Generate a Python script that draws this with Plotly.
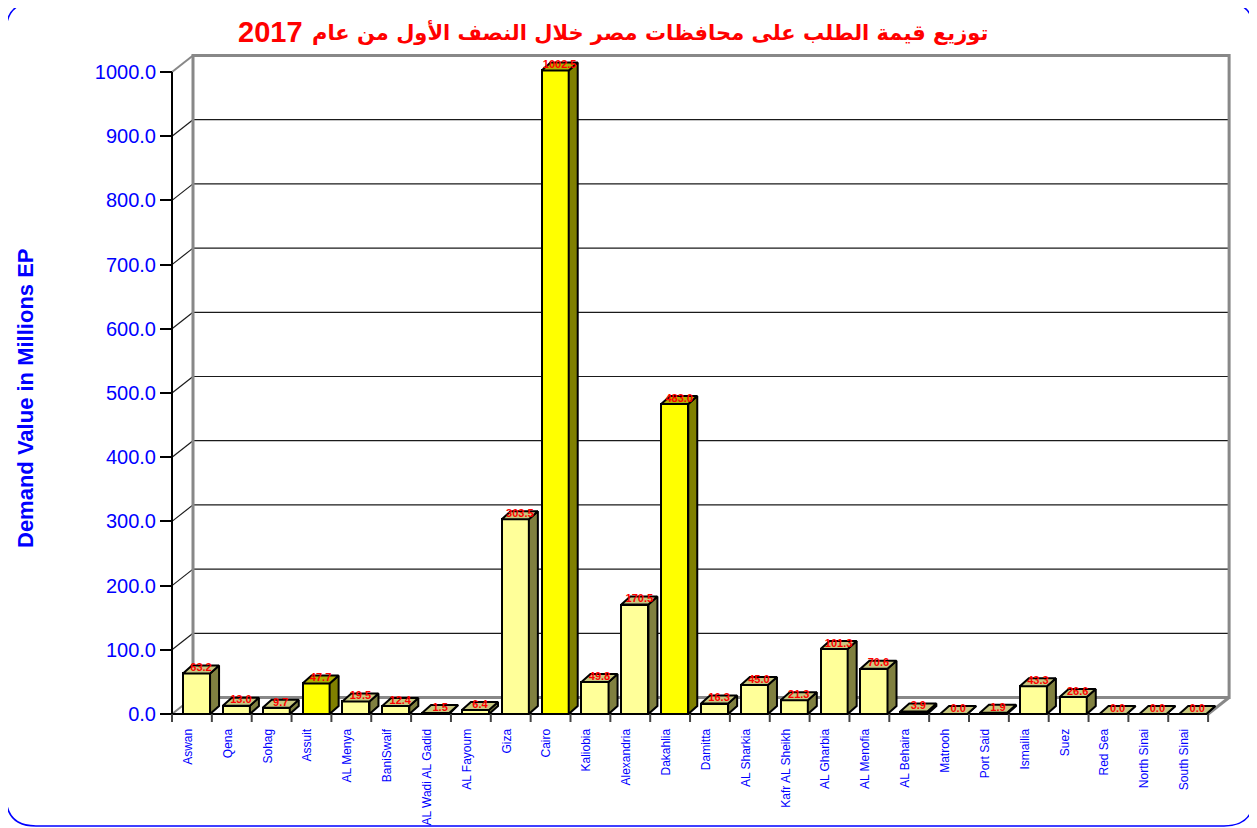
import plotly.graph_objects as go

# ---------------- data ----------------
governorates = ["Aswan", "Qena", "Sohag", "Assuit", "AL Menya", "BaniSwaif", "AL Wadi AL Gadid",
                "AL Fayoum", "Giza", "Cairo", "Kaliobia", "Alexandria", "Dakahlia", "Damitta",
                "AL Sharkia", "Kafr AL Sheikh", "AL Gharbia", "AL Menofia", "AL Behaira", "Matrooh",
                "Port Said", "Ismailia", "Suez", "Red Sea", "North Sinai", "South Sinai"]
demand_values = [63.2, 13.0, 9.7, 47.7, 19.5, 12.4, 1.5, 6.4, 303.5, 1002.5, 49.8, 170.5, 483.0, 16.3,
                 45.0, 21.3, 101.3, 70.6, 3.9, 0.0, 1.9, 43.3, 26.6, 0.0, 0.0, 0.0]
highlighted = ["Assuit", "Cairo", "Dakahlia"]
y_ticks = [0, 100, 200, 300, 400, 500, 600, 700, 800, 900, 1000]
title_arabic = "توزيع قيمة الطلب على محافظات مصر خلال النصف الأول من عام"
title_year = "2017"
y_title = "Demand Value in Millions EP"

# ---------------- layout geometry (reference pixels) ----------------
OFF = 8                       # page body margin
W, H = 1257 - OFF, 828 - OFF  # figure size
PX_X = 39.85                  # pixels per category
X0 = 172 - OFF                # pixel of x = -0.5
PX_Y = 0.642                  # pixels per value unit
Y0 = 714 - OFF                # pixel of y = 0
DOM_L, DOM_R, DOM_T, DOM_B = 150 - OFF, 1245 - OFF, 40 - OFF, 730 - OFF

xr = [-0.5 - (X0 - DOM_L) / PX_X, -0.5 + (DOM_R - X0) / PX_X]
yr = [-(DOM_B - Y0) / PX_Y, (Y0 - DOM_T) / PX_Y]

n = len(governorates)
WX = 21 / PX_X        # wall depth (x)
WY = 16.5 / PX_Y      # wall depth (y)
BW = 0.68             # bar front width
BS = 0.115            # bar front centre shift
DX = 9 / PX_X         # bar depth x
DY = 8 / PX_Y         # bar depth y

LIGHT_FRONT, LIGHT_SIDE, LIGHT_TOP = "#FFFF99", "#808040", "#C8C880"
BRIGHT_FRONT, BRIGHT_SIDE, BRIGHT_TOP = "#FFFF00", "#808000", "#B0B000"

def px(xp): return (xp - OFF) / W
def py(yp): return 1 - (yp - OFF) / H

fig = go.Figure()

# front faces
front_colors = [BRIGHT_FRONT if g in highlighted else LIGHT_FRONT for g in governorates]
fig.add_trace(go.Bar(
    x=[i + BS for i in range(n)], y=demand_values, width=BW,
    marker=dict(color=front_colors, line=dict(color="black", width=2)),
    hoverinfo="skip", showlegend=False))

# side and top faces
def faces(bright):
    sx, sy, tx, ty = [], [], [], []
    for i, (g, v) in enumerate(zip(governorates, demand_values)):
        if (g in highlighted) != bright:
            continue
        x0 = i + BS - BW / 2
        x1 = i + BS + BW / 2
        sx += [x1, x1 + DX, x1 + DX, x1, x1, None]
        sy += [0, DY, v + DY, v, 0, None]
        tx += [x0, x0 + DX, x1 + DX, x1, x0, None]
        ty += [v, v + DY, v + DY, v, v, None]
    return sx, sy, tx, ty

for bright, side_c, top_c in [(False, LIGHT_SIDE, LIGHT_TOP), (True, BRIGHT_SIDE, BRIGHT_TOP)]:
    sx, sy, tx, ty = faces(bright)
    fig.add_trace(go.Scatter(x=sx, y=sy, mode="lines", fill="toself", fillcolor=side_c,
                             line=dict(color="black", width=2), hoverinfo="skip", showlegend=False))
    fig.add_trace(go.Scatter(x=tx, y=ty, mode="lines", fill="toself", fillcolor=top_c,
                             line=dict(color="black", width=2), hoverinfo="skip", showlegend=False))

# value labels
fig.add_trace(go.Scatter(
    x=[i + BS + DX / 2 for i in range(n)], y=[v + DY / 2 + 1 / PX_Y for v in demand_values],
    mode="text", text=[f"{v:.1f}" for v in demand_values],
    textfont=dict(family="Liberation Sans, Arial", size=11, color="#FF0000", weight="bold"),
    textposition="middle center", hoverinfo="skip", showlegend=False, cliponaxis=False))

shapes = []
GRID = "#1a1a1a"
WALL = "#888888"
xl, xrgt = -0.5, n - 0.5
# back-wall gridlines and left-wall diagonals
for v in y_ticks[1:]:
    shapes.append(dict(type="line", xref="x", yref="y", x0=xl + WX, y0=v + WY, x1=xrgt + WX, y1=v + WY,
                       line=dict(color=GRID, width=1.2), layer="below"))
    shapes.append(dict(type="line", xref="x", yref="y", x0=xl, y0=v, x1=xl + WX, y1=v + WY,
                       line=dict(color=WALL if v == y_ticks[-1] else GRID, width=2 if v == y_ticks[-1] else 1.2),
                       layer="below"))
# back wall frame
shapes.append(dict(type="rect", xref="x", yref="y", x0=xl + WX, y0=WY, x1=xrgt + WX, y1=y_ticks[-1] + WY,
                   line=dict(color=WALL, width=3), layer="below"))
# floor diagonals
shapes.append(dict(type="line", xref="x", yref="y", x0=xl, y0=0, x1=xl + WX, y1=WY,
                   line=dict(color=WALL, width=2), layer="below"))
shapes.append(dict(type="line", xref="x", yref="y", x0=xrgt, y0=0, x1=xrgt + WX, y1=WY,
                   line=dict(color=WALL, width=3), layer="below"))
# front axes
shapes.append(dict(type="line", xref="x", yref="y", x0=xl, y0=0, x1=xrgt, y1=0,
                   line=dict(color="black", width=2)))
shapes.append(dict(type="line", xref="x", yref="y", x0=xl, y0=0, x1=xl, y1=y_ticks[-1],
                   line=dict(color="black", width=2)))
# category boundary ticks
for k in range(n + 1):
    b = k - 0.5
    shapes.append(dict(type="line", xref="x", yref="y", x0=b, y0=0, x1=b, y1=-8 / PX_Y,
                       line=dict(color="#444444", width=2)))

# rounded blue border (paper coords, reference pixels)
L, T, R, B, RAD = 6, 2, 1254, 826, 30
path = (f"M {px(L)},{py(T + RAD)} Q {px(L)},{py(T)} {px(L + RAD)},{py(T)} "
        f"L {px(R - RAD)},{py(T)} Q {px(R)},{py(T)} {px(R)},{py(T + RAD)} "
        f"L {px(R)},{py(B - RAD)} Q {px(R)},{py(B)} {px(R - RAD)},{py(B)} "
        f"L {px(L + RAD)},{py(B)} Q {px(L)},{py(B)} {px(L)},{py(B - RAD)} Z")
shapes.append(dict(type="path", xref="paper", yref="paper", path=path,
                   line=dict(color="#0000FF", width=1.5), layer="below"))

fig.update_layout(
    width=W, height=H, margin=dict(l=0, r=0, t=0, b=0),
    paper_bgcolor="white", plot_bgcolor="rgba(0,0,0,0)",
    shapes=shapes, bargap=0,
    xaxis=dict(domain=[DOM_L / W, DOM_R / W], range=xr, anchor="free", position=1 - Y0 / H,
               tickmode="array", tickvals=[i - 0.1 for i in range(n)], ticktext=governorates,
               tickangle=-90, ticks="outside", ticklen=9, tickcolor="rgba(0,0,0,0)",
               tickfont=dict(family="Liberation Sans, Arial", size=12, color="#0000FF"),
               showgrid=False, zeroline=False, showline=False, fixedrange=True),
    yaxis=dict(domain=[1 - DOM_B / H, 1 - DOM_T / H], range=yr, anchor="free", position=X0 / W,
               tickmode="array", tickvals=y_ticks, ticktext=[f"{v:.1f}" for v in y_ticks],
               ticks="outside", ticklen=12, tickwidth=1.5, tickcolor="black",
               tickfont=dict(family="Liberation Sans, Arial", size=20, color="#0000FF"),
               showgrid=False, zeroline=False, showline=False, fixedrange=True),
    annotations=[
        dict(text=title_arabic, xref="paper", yref="paper", x=px(990), y=py(32), showarrow=False,
             xanchor="right", yanchor="middle",
             font=dict(family="DejaVu Sans, Liberation Sans", size=21, color="#FF0000", weight="bold")),
        dict(text=title_year, xref="paper", yref="paper", x=px(236), y=py(32), showarrow=False,
             xanchor="left", yanchor="middle",
             font=dict(family="Liberation Sans, Arial", size=29, color="#FF0000", weight="bold")),
        dict(text=y_title, xref="paper", yref="paper", x=px(25), y=py(398), showarrow=False,
             textangle=-90, xanchor="center", yanchor="middle",
             font=dict(family="Liberation Sans, Arial", size=22, color="#0000FF", weight="bold")),
    ],
)

fig.write_html("out.html")
